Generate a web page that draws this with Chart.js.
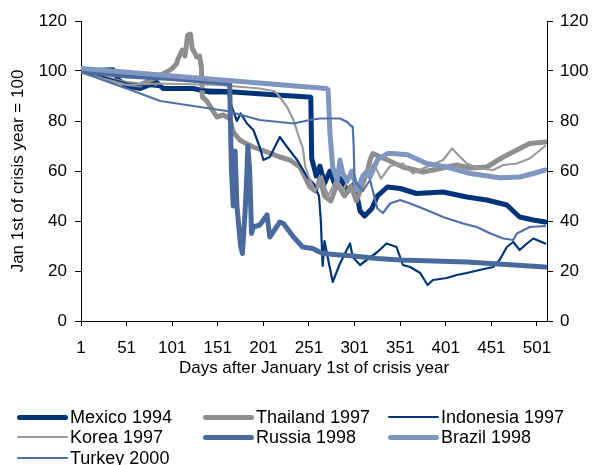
<!DOCTYPE html>
<html><head><meta charset="utf-8">
<script src="https://cdn.jsdelivr.net/npm/chart.js@4/dist/chart.umd.min.js"></script>
<style>
html,body{margin:0;padding:0;background:#fff;}
#wrap{position:relative;width:592px;height:465px;overflow:hidden;}
#legend{position:absolute;left:0;top:0;width:592px;height:465px;font-family:"Liberation Sans",Arial,sans-serif;font-size:18px;color:#000;pointer-events:none;}
.item{position:absolute;display:flex;align-items:center;height:20px;white-space:nowrap;transform:translateY(-50%);}
.swatch{width:51px;margin-right:2px;border-radius:3px;}
</style></head><body>
<div id="wrap"><canvas id="c" width="592" height="465"></canvas><div id="legend"></div></div>
<script>
// ---- data (day after Jan 1st, index with Jan 1st = 100) ----
const dayTicks = [1, 51, 101, 151, 201, 251, 301, 351, 401, 451, 501];
const valueTicks = [0, 20, 40, 60, 80, 100, 120];
const seriesNames = ["Mexico 1994", "Thailand 1997", "Indonesia 1997", "Korea 1997", "Russia 1998", "Brazil 1998", "Turkey 2000"];

const mexico = [[1,100],[36,100.5],[42,96.5],[51,94],[66,93],[84,95.5],[91,93],[124,93],[142,91.6],[168,91.6],[216,90.4],[250,89.6],[253,89.5],[254,65],[259,58],[263,62],[268,55],[274,60],[280,54],[285,57],[294,52],[301,55],[307,44],[312,42],[320,45],[326,50],[337,53.6],[351,53],[369,51],[398,51.6],[424,49.6],[446,48.4],[468,46.4],[482,41.6],[497,40.4],[510,39.6]];
const thailand = [[1,100],[26,97],[51,95],[66,94.4],[95,99.6],[101,101],[106,103],[107,104.5],[112,108.4],[115,106],[118,114.4],[121,114.8],[123,109],[126,107],[128,105.6],[131,106],[133,101.6],[134,89.6],[139,88],[145,84.4],[150,81.6],[157,82.4],[164,81],[168,75.6],[175,72.4],[183,70.8],[190,69.6],[205,67.6],[219,65.6],[230,64.4],[241,61.6],[252,53.6],[258,52],[263,57],[268,50],[275,48],[282,55],[290,50],[297,54],[303,48],[310,55],[315,60],[318,64.4],[321,67],[337,64.4],[354,61.6],[376,59.6],[395,61],[413,62.4],[428,61.2],[446,61.6],[464,65.6],[479,68.4],[493,71],[510,71.6]];
const indonesia = [[1,100],[51,95],[100,93],[150,92.5],[161,92.4],[164,88.4],[168,84],[172,80],[176,83],[183,79],[190,76.4],[197,69.6],[201,64.4],[208,65.6],[219,73.6],[227,69.6],[238,64.4],[249,57.6],[256,55],[262,50],[264,40],[266,22],[268,32],[277,15.6],[285,23],[296,31],[299,25.6],[307,22.4],[326,27.6],[336,31],[347,29.6],[354,22.4],[362,21.6],[373,19.2],[381,14.4],[387,16.4],[402,17.2],[413,18.4],[424,19.2],[438,20.4],[453,21.6],[460,24.4],[468,29.6],[475,31.6],[482,28.4],[490,31],[497,33],[510,31]];
const korea = [[1,100],[25,97],[51,94.5],[88,95],[153,94.4],[197,93],[212,92],[216,91],[227,85.6],[234,80.4],[241,72.4],[244,69.6],[247,61.6],[252,56.4],[258,52],[265,58],[272,50],[280,56],[288,52],[296,58],[305,54],[315,59],[322,63],[330,57],[340,62],[354,63],[365,59],[376,61],[398,64.4],[408,69],[413,67],[424,63],[438,61],[453,60.4],[464,62.4],[479,63],[493,65],[510,70]];
const russia = [[1,100],[51,98],[100,97],[150,95.5],[164,95],[166,60],[168,46],[170,68],[172,46],[176,30],[178,27],[181,44],[183,60],[184,70],[186,60],[188,35],[190,37.6],[197,38.4],[205,42.4],[208,33.6],[219,39.6],[223,39],[234,33.6],[244,29.6],[255,29],[266,27],[285,26.4],[300,26],[326,25],[351,24.4],[424,23.6],[510,21.6]];
const brazil = [[1,101],[270,93],[272,92.4],[274,75],[277,61.6],[282,56],[285,64.4],[288,59],[293,56],[298,60],[304,52.4],[310,58],[315,60],[318,57.6],[326,64.4],[337,67],[343,67],[359,66.5],[380,63],[402,61.6],[428,59],[460,57.3],[482,57.6],[497,59],[510,60.4]];
const turkey = [[1,100],[25,96.4],[51,93],[88,88],[124,86],[161,84],[197,80.4],[234,79],[252,80.4],[263,81],[285,81],[293,79.6],[296,78.4],[299,77.6],[300,70],[301,56],[310,52],[318,56.4],[326,45],[332,43.2],[340,47],[351,48.4],[362,47],[380,44.4],[398,41.6],[420,39],[435,37.6],[450,35],[464,33],[475,32.4],[479,35],[493,37.6],[510,38]];

const seriesData = [mexico, thailand, indonesia, korea, russia, brazil, turkey];
const seriesColors = ["#003478", "#8e8e8e", "#003478", "#9a9a9a", "#4a6a9e", "#7f96c0", "#4f70a8"];
const seriesWidths = [5, 5, 2.2, 2.2, 5, 5, 2.2];

const FONT = {family: '"Liberation Sans", Arial, sans-serif', size: 17};

const datasets = seriesNames.map((name, i) => ({
  label: name,
  data: seriesData[i].map(p => ({x: p[0], y: p[1]})),
  borderColor: seriesColors[i],
  backgroundColor: seriesColors[i],
  borderWidth: seriesWidths[i],
  pointRadius: 0,
  tension: 0,
  fill: false,
  borderJoinStyle: 'round',
  borderCapStyle: 'round',
  order: seriesNames.length - i,
  yAxisID: 'y'
}));

const fixTicks = (arr) => (s) => { s.ticks = arr.map(v => ({value: v})); };

new Chart(document.getElementById('c'), {
  type: 'line',
  data: {datasets},
  options: {
    responsive: false,
    animation: false,
    events: [],
    layout: {padding: {left: 0, right: 0, top: 21, bottom: 84}},
    plugins: {legend: {display: false}, tooltip: {enabled: false}, title: {display: false}},
    scales: {
      x: {
        type: 'linear', min: 1, max: 512,
        afterBuildTicks: fixTicks(dayTicks),
        afterFit: s => { s.height = 60; },
        grid: {drawOnChartArea: false, drawTicks: true, tickLength: 5, color: '#000', lineWidth: 1},
        border: {color: '#000', width: 1},
        ticks: {font: FONT, color: '#000', padding: 12, maxRotation: 0, autoSkip: false},
        title: {display: true, text: 'Days after January 1st of crisis year', font: FONT, color: '#000', padding: {top: 0, bottom: 2}}
      },
      y: {
        type: 'linear', position: 'left', min: 0, max: 120,
        afterBuildTicks: fixTicks(valueTicks),
        afterFit: s => { s.width = 81; },
        grid: {drawOnChartArea: false, drawTicks: true, tickLength: 6, color: '#000', lineWidth: 1},
        border: {color: '#000', width: 1},
        ticks: {font: FONT, color: '#000', padding: 8},
        title: {display: true, text: 'Jan 1st of crisis year = 100', font: FONT, color: '#000', padding: {top: 8, bottom: 0}}
      },
      y2: {
        type: 'linear', position: 'right', min: 0, max: 120,
        afterBuildTicks: fixTicks(valueTicks),
        afterFit: s => { s.width = 45; },
        grid: {drawOnChartArea: false, drawTicks: true, tickLength: 6, color: '#000', lineWidth: 1},
        border: {color: '#000', width: 1},
        ticks: {font: FONT, color: '#000', padding: 7}
      }
    }
  }
});

// ---- HTML legend built from the datasets ----
const legendCols = [17, 203, 388];
const legendRows = [417, 437, 458];
const legend = document.getElementById('legend');
datasets.forEach((ds, i) => {
  const item = document.createElement('div');
  item.className = 'item';
  item.style.left = legendCols[i % 3] + 'px';
  item.style.top = legendRows[Math.floor(i / 3)] + 'px';
  const sw = document.createElement('span');
  sw.className = 'swatch';
  sw.style.height = ds.borderWidth + 'px';
  sw.style.background = ds.borderColor;
  const tx = document.createElement('span');
  tx.textContent = ds.label;
  item.appendChild(sw); item.appendChild(tx);
  legend.appendChild(item);
});
</script>
</body></html>
